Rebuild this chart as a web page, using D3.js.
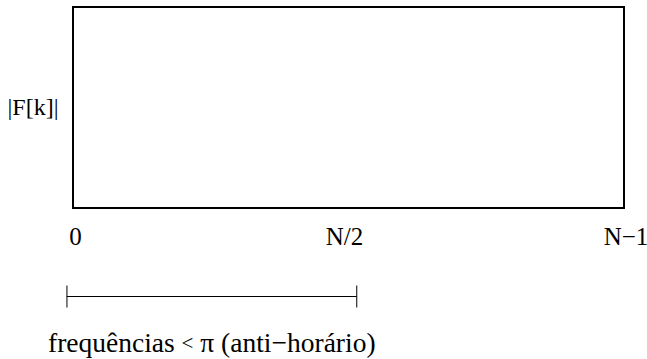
<!DOCTYPE html>
<html><head><meta charset="utf-8">
<script src="https://cdn.jsdelivr.net/npm/d3@7"></script>
<style>body{margin:0;background:#fff}svg{display:block}text{font-family:"Liberation Serif","Times New Roman",serif;fill:#000}</style>
</head><body>
<script>
const tickLabels = ["0", "N/2", "N\u22121"];
const tickValues = [0, 0.5, 1];
const yDomain = [0, 1];
const yLabel = "|F[k]|";
const bracketRange = [-0.011, 0.515];
const bracketParts = ["frequências ", "<", " \u03c0 (anti\u2212horário)"];

const W = 647, H = 359;
const svg = d3.select("body").append("svg").attr("width", W).attr("height", H);
const x = d3.scaleLinear().domain([0, 1]).range([73, 624]);
const y = d3.scaleLinear().domain(yDomain).range([208, 7]);

svg.append("rect")
  .attr("x", x(0)).attr("y", y(1))
  .attr("width", x(1) - x(0)).attr("height", y(0) - y(1))
  .attr("fill", "none").attr("stroke", "#000").attr("stroke-width", 2);

svg.append("text").attr("x", 33).attr("y", 115).attr("text-anchor", "middle")
  .attr("font-size", 24).text(yLabel);

svg.selectAll("text.tick").data(tickValues).join("text").attr("class", "tick")
  .attr("x", (d, i) => x(d) + [2.5, -4, 2][i]).attr("y", 245).attr("text-anchor", "middle")
  .attr("font-size", 25).text((d, i) => tickLabels[i]);

const by = 296.5;
const g = svg.append("g").attr("stroke", "#000").attr("stroke-width", 1);
g.append("line").attr("x1", x(bracketRange[0])).attr("x2", x(bracketRange[1])).attr("y1", by).attr("y2", by);
bracketRange.forEach(v => g.append("line").attr("x1", x(v)).attr("x2", x(v)).attr("y1", by - 11).attr("y2", by + 11));

const t = svg.append("text").attr("x", 48).attr("y", 352).attr("font-size", 27.5);
t.append("tspan").text(bracketParts[0]);
t.append("tspan").attr("font-size", 21).attr("dy", -2).text(bracketParts[1]);
t.append("tspan").attr("dy", 2).text(bracketParts[2]);
</script>
</body></html>
